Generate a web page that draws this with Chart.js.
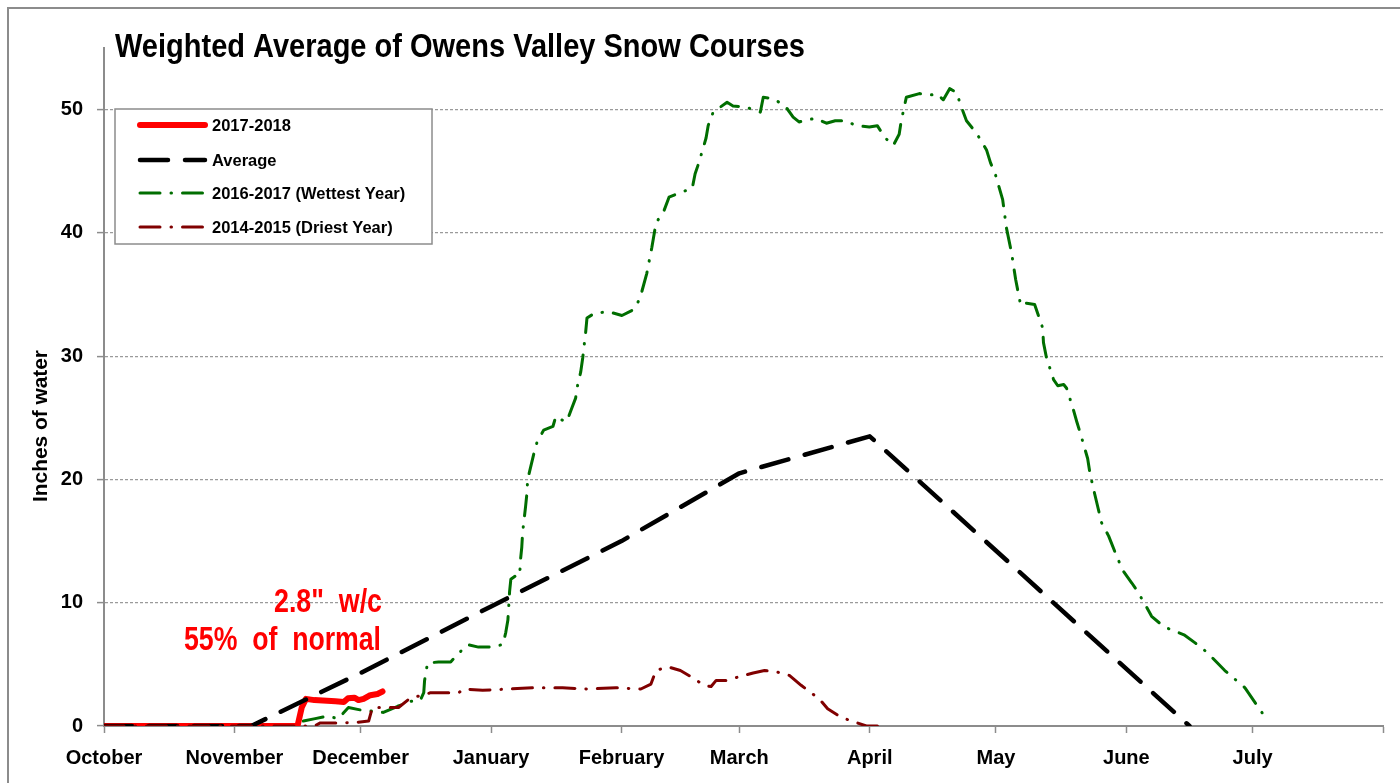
<!DOCTYPE html>
<html>
<head>
<meta charset="utf-8">
<script src="https://cdn.jsdelivr.net/npm/chart.js@4.4.1/dist/chart.umd.min.js"></script>
<style>
  body { margin: 0; background: #fff; }
  #wrap { width: 1400px; height: 783px; position: relative; }
</style>
</head>
<body>
<div id="wrap"><canvas id="snowChart"></canvas></div>
<script>
// x axis is days since Oct 1
const monthLabels = ['October', 'November', 'December', 'January', 'February', 'March', 'April', 'May', 'June', 'July', ''];
const monthStartDays = [0, 31, 61, 92, 123, 151, 182, 212, 243, 273, 304];
const yTicks = [0, 10, 20, 30, 40, 50];

const seriesNames = ['2017-2018', 'Average', '2016-2017 (Wettest Year)', '2014-2015 (Driest Year)'];

// 2017-2018
const curDays = [0, 46, 47, 48, 50, 55, 57, 58, 59.5, 60.5, 61.7, 63.3, 65, 66.2];
const curVals = [0, 0, 1.5, 2.2, 2.1, 2.0, 1.95, 2.25, 2.3, 2.1, 2.2, 2.5, 2.6, 2.8];

// average
const avgDays = [0, 35, 61, 92, 123, 151, 182, 258];
const avgVals = [0, 0, 4.3, 9.7, 15.0, 20.5, 23.5, 0];

// 2016-2017 wettest
const wetDays = [
  47.4, 50.2, 53.1, 55.7, 58.1, 61, 63.8, 66.4, 69.8, 72.9,
  75.2, 76, 76.2, 76.9, 79.5, 82.4, 84.3, 86.4, 89, 91.4,
  94.8, 95.5, 96, 96.2, 96.4, 96.7, 97.9, 98.8, 99, 99.3,
  99.5, 100.2, 100.5, 100.7, 102.1, 102.9, 104.5, 106.7, 107.4, 108.1,
  110, 111.2, 112.1, 112.6, 113.3, 113.8, 114.5, 114.8, 116.7, 120,
  123.1, 126, 127.4, 129, 130.2, 131.2, 133.1, 134.3, 137.1, 139.8,
  140.5, 141.4, 143.1, 143.6, 144.8, 148.1, 149.5, 152.6, 156, 156.7,
  159, 161.9, 163.8, 165.2, 169, 171.7, 173.8, 176.2, 178.8, 181.9,
  183.8, 185.7, 187.6, 189, 189.5, 190.7, 193.8, 196.7, 197.9, 199.5,
  201, 202.6, 203.8, 205, 206.4, 208.1, 209.8, 210.7, 211.9, 213.6,
  214.5, 215.7, 216.7, 217.9, 219.3, 221.2, 223.1, 223.3, 224, 225.7,
  226.7, 228.1, 228.8, 230.2, 231.2, 232.1, 233.8, 234.3, 235, 236.4,
  237.1, 238.8, 240.9, 242.4, 244.3, 245.5, 247.4, 249, 251.4, 253,
  256.7, 259.5, 262.1, 266.4, 268.8, 271.2, 274.8, 276.7];
const wetVals = [
  0.4, 0.6, 0.8, 0.6, 1.5, 1.3, 1.2, 1.1, 1.6, 2.0,
  2.1, 2.7, 3.7, 5.1, 5.2, 5.2, 5.9, 6.6, 6.4, 6.4,
  6.6, 7.6, 8.6, 9.7, 10.9, 11.9, 12.2, 12.2, 13.5, 14.5,
  15.7, 17.8, 18.8, 20.0, 22.0, 23.0, 24.0, 24.3, 25.1, 24.9,
  24.7, 25.8, 26.6, 27.7, 28.7, 29.9, 32.0, 33.1, 33.5, 33.6,
  33.3, 33.8, 34.7, 36.7, 38.8, 40.8, 41.8, 42.9, 43.3, 43.6,
  44.8, 45.7, 47.7, 48.7, 49.8, 50.6, 50.3, 50.2, 49.8, 51.0,
  50.9, 50.3, 49.4, 49.0, 49.3, 48.9, 49.1, 49.1, 48.7, 48.6,
  48.7, 47.7, 47.1, 48.0, 49.1, 51.0, 51.3, 51.2, 51.3, 50.8,
  51.7, 51.4, 50.2, 49.1, 48.5, 47.7, 46.7, 45.7, 44.7, 42.7,
  40.4, 38.4, 36.2, 34.1, 34.3, 34.2, 32.3, 31.1, 29.9, 28.1,
  27.6, 27.7, 27.4, 25.9, 24.7, 23.7, 21.7, 20.6, 19.5, 17.5,
  16.5, 15.4, 13.6, 12.5, 11.6, 11.0, 9.9, 8.9, 8.2, 7.9,
  7.4, 6.7, 6.0, 4.5, 3.8, 3.1, 1.3, 0.4];

// 2014-2015 driest
const dryDays = [0, 50, 51.4, 56.9, 60.2, 62.9, 63.8, 66.9, 70, 72.9, 76, 77.6, 80.7, 84.3, 85.5, 90, 96.2,
  102, 109, 115, 121.7, 127.6, 130, 131.2, 134, 137, 140, 142.6, 144.3, 145.5, 147.9, 151, 154.3, 157,
  159.8, 162.9, 165.7, 170, 172, 175.2, 181.2, 184];
const dryVals = [0, 0, 0.25, 0.25, 0.3, 0.4, 1.5, 1.5, 1.5, 2.3, 2.5, 2.7, 2.7, 2.7, 3.0, 2.9, 3.0,
  3.1, 3.1, 3.0, 3.1, 3.0, 3.4, 4.5, 4.8, 4.5, 3.9, 3.3, 3.2, 3.7, 3.7, 4.0, 4.3, 4.5,
  4.4, 4.1, 3.3, 2.2, 1.4, 0.7, 0.0, 0];

const toPoints = (xs, ys) => xs.map((x, i) => ({ x: x, y: ys[i] }));

const dashDot = [20, 11, 0.5, 11];

const styles = [
  { color: '#ff0000', width: 6, dash: [] },
  { color: '#000000', width: 4.5, dash: [28, 17] },
  { color: '#006e00', width: 3, dash: dashDot },
  { color: '#800000', width: 3, dash: dashDot },
];

function fitText(ctx, text, x, y, font, targetW, align) {
  ctx.font = font;
  const w = ctx.measureText(text).width;
  ctx.save();
  ctx.translate(x, y);
  ctx.scale(targetW / w, 1);
  ctx.textAlign = align;
  ctx.fillText(text, 0, 0);
  ctx.restore();
}

const decor = {
  id: 'decor',
  beforeDraw(chart) {
    const ctx = chart.ctx;
    ctx.save();
    ctx.fillStyle = '#fff';
    ctx.fillRect(0, 0, chart.width, chart.height);
    // outer frame
    ctx.strokeStyle = '#8c8c8c';
    ctx.lineWidth = 2;
    ctx.beginPath();
    ctx.moveTo(8, 783);
    ctx.lineTo(8, 8);
    ctx.lineTo(1400, 8);
    ctx.stroke();
    ctx.restore();
  },
  afterDraw(chart) {
    const ctx = chart.ctx;
    ctx.save();
    ctx.fillStyle = '#000';
    ctx.textBaseline = 'alphabetic';
    fitText(ctx, 'Weighted Average of Owens Valley Snow Courses', 115, 57,
      'bold 33px "Liberation Sans", Arial, sans-serif', 690, 'left');

    // y axis title
    ctx.save();
    ctx.translate(41, 426);
    ctx.rotate(-Math.PI / 2);
    ctx.textBaseline = 'middle';
    fitText(ctx, 'Inches of water', 0, 0, 'bold 21px "Liberation Sans", Arial, sans-serif', 152, 'center');
    ctx.restore();

    // legend
    ctx.fillStyle = '#fff';
    ctx.fillRect(115, 109, 317, 135);
    ctx.strokeStyle = '#8c8c8c';
    ctx.lineWidth = 1.5;
    ctx.strokeRect(115, 109, 317, 135);
    const rows = [125, 160, 193, 227];
    seriesNames.forEach((name, i) => {
      const s = styles[i];
      ctx.save();
      ctx.strokeStyle = s.color;
      ctx.lineWidth = s.width;
      ctx.lineCap = 'round';
      ctx.setLineDash(s.dash);
      ctx.beginPath();
      ctx.moveTo(140, rows[i]);
      ctx.lineTo(205, rows[i]);
      ctx.stroke();
      ctx.restore();
      ctx.fillStyle = '#000';
      ctx.font = 'bold 16.5px "Liberation Sans", Arial, sans-serif';
      ctx.textAlign = 'left';
      ctx.textBaseline = 'middle';
      ctx.fillText(name, 212, rows[i] + 1);
    });

    // note
    ctx.fillStyle = '#ff0000';
    ctx.textBaseline = 'alphabetic';
    fitText(ctx, '2.8"  w/c', 382, 612, 'bold 34px "Liberation Sans", Arial, sans-serif', 108, 'right');
    fitText(ctx, '55%  of  normal', 381, 650, 'bold 34px "Liberation Sans", Arial, sans-serif', 197, 'right');
    ctx.restore();
  }
};

const datasets = [
  { data: toPoints(curDays, curVals), order: 3 },
  { data: toPoints(avgDays, avgVals), order: 2 },
  { data: toPoints(wetDays, wetVals), order: 1 },
  { data: toPoints(dryDays, dryVals), order: 0 },
].map((d, i) => Object.assign(d, {
  label: seriesNames[i],
  borderColor: styles[i].color,
  borderWidth: styles[i].width,
  borderDash: styles[i].dash,
  borderCapStyle: 'round',
  borderJoinStyle: 'round',
  pointRadius: 0,
  fill: false,
  tension: 0,
}));

const ctx = document.getElementById('snowChart').getContext('2d');
new Chart(ctx, {
  type: 'line',
  data: { datasets: datasets },
  options: {
    responsive: true,
    maintainAspectRatio: false,
    animation: false,
    layout: { padding: { left: 0, right: 17, top: 48, bottom: 0 } },
    plugins: {
      legend: { display: false },
      tooltip: { enabled: false },
    },
    scales: {
      x: {
        type: 'linear',
        min: 0,
        max: 304,
        afterBuildTicks: (scale) => { scale.ticks = monthStartDays.map(v => ({ value: v })); },
        afterFit: (scale) => { scale.height = 57; },
        ticks: {
          autoSkip: false,
          maxRotation: 0,
          padding: 13,
          color: '#000',
          font: { family: '"Liberation Sans", Arial, sans-serif', size: 20, weight: 'bold' },
          callback: (value) => monthLabels[monthStartDays.indexOf(value)],
        },
        grid: { drawOnChartArea: false, drawTicks: true, tickLength: 7, tickColor: '#8c8c8c', tickWidth: 1.5 },
        border: { color: '#8c8c8c', width: 2 },
      },
      y: {
        min: 0,
        max: 55,
        afterBuildTicks: (scale) => { scale.ticks = yTicks.map(v => ({ value: v })); },
        afterFit: (scale) => { scale.width = 104; },
        ticks: {
          padding: 14,
          color: '#000',
          font: { family: '"Liberation Sans", Arial, sans-serif', size: 20, weight: 'bold' },
        },
        grid: {
          color: (c) => (c.tick && c.tick.value === 0 ? 'rgba(0,0,0,0)' : '#9a9a9a'),
          lineWidth: 1.2,
          tickLength: 7,
          tickColor: '#8c8c8c',
          tickWidth: 1.5,
        },
        border: { color: '#8c8c8c', width: 2, dash: [3, 2] },
      },
    },
  },
  plugins: [decor],
});
</script>
</body>
</html>
